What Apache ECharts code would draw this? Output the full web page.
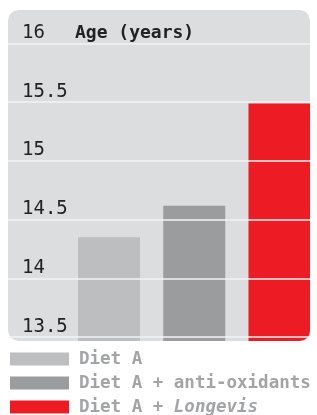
<!DOCTYPE html>
<html>
<head>
<meta charset="utf-8">
<script src="https://cdn.jsdelivr.net/npm/echarts@6/dist/echarts.min.js"></script>
<style>
  html, body { margin: 0; padding: 0; background: #fff; }
  #chart { width: 317px; height: 415px; }
</style>
</head>
<body>
<div id="chart"></div>
<script>
  // data
  var categories = ['Diet A', 'Diet A + anti-oxidants', 'Diet A + Longevis'];
  var ages = [14.35, 14.62, 15.49];
  var barColors = ['#bdbec0', '#9b9c9e', '#ed1c24'];
  var tickValues = [13.5, 14, 14.5, 15, 15.5, 16];
  var yMin = 13.468;
  var yMax = 16.285;

  var mono = '"DejaVu Sans Mono", monospace';

  var chart = echarts.init(document.getElementById('chart'));

  // one series per group so the legend lists each bar; x is the group index
  var series = categories.map(function (name, i) {
    return {
      name: name,
      type: 'bar',
      barWidth: 62,
      barGap: '-100%',
      itemStyle: { color: barColors[i] },
      data: [[i, ages[i]]]
    };
  });

  chart.setOption({
    animation: false,
    graphic: [
      {
        // grey panel
        type: 'rect',
        z: -10,
        shape: { x: 8, y: 10, width: 302, height: 331, r: 10 },
        style: { fill: '#dcdddf' }
      },
      {
        // white ring so bars follow the panel's rounded corners
        type: 'rect',
        z: 3,
        silent: true,
        shape: { x: 5, y: 7, width: 308, height: 337, r: 13 },
        style: { fill: 'none', stroke: '#fff', lineWidth: 6 }
      }
    ],
    title: {
      text: 'Age (years)',
      left: 70,
      top: 19,
      textStyle: { fontFamily: mono, fontWeight: 'bold', fontSize: 18, color: '#222' }
    },
    legend: {
      orient: 'vertical',
      left: 10,
      top: 350,
      height: 70,
      padding: 0,
      z: 6,
      icon: 'rect',
      itemWidth: 59,
      itemHeight: 13,
      itemGap: 6,
      selectedMode: false,
      data: categories,
      formatter: function (name) {
        return name.replace('Longevis', '{i|Longevis}');
      },
      textStyle: {
        fontFamily: mono, fontWeight: 'bold', fontSize: 17.5, color: '#a3a4a6',
        padding: [0, 0, 0, 5],
        rich: {
          i: { fontFamily: mono, fontWeight: 'bold', fontStyle: 'italic', fontSize: 17.5, color: '#a3a4a6' }
        }
      }
    },
    grid: { left: 8, right: 7, top: 10, bottom: 74 },
    xAxis: { type: 'value', min: -1.185, max: 2.358, show: false },
    yAxis: {
      type: 'value',
      min: yMin,
      max: yMax,
      z: 5,
      axisLine: { show: false },
      axisTick: { show: false, customValues: tickValues },
      splitLine: { show: true, lineStyle: { color: '#f3f3f4', width: 1.5 } },
      axisLabel: {
        inside: true,
        margin: 14,
        customValues: tickValues,
        verticalAlign: 'bottom',
        padding: [0, 0, 1, 0],
        fontFamily: mono,
        fontSize: 19,
        color: '#222',
        formatter: function (v) { return String(v); }
      }
    },
    series: series
  });
</script>
</body>
</html>
